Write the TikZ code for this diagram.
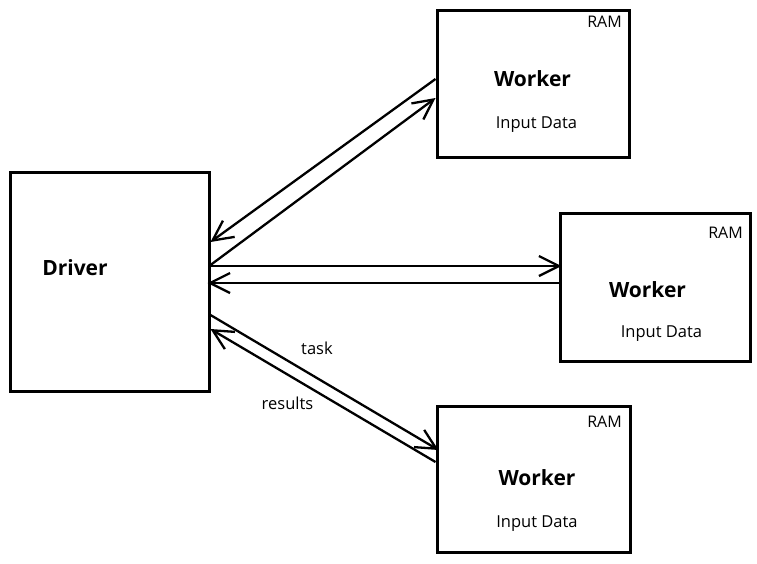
\documentclass[tikz,border=0pt]{standalone}
\usepackage{fontspec}
\setmainfont{Open Sans}
\usetikzlibrary{arrows.meta, positioning}

\begin{document}
\begin{tikzpicture}[
  x=1pt, y=-1pt,
  box/.style={draw, line width=3pt, inner sep=0pt},
  bigtxt/.style={font=\fontsize{21}{23}\selectfont\bfseries, inner sep=0pt, anchor=base},
  smalltxt/.style={font=\fontsize{16.5}{18}\selectfont, inner sep=0pt, anchor=base},
  ramtxt/.style={font=\fontsize{16}{18}\selectfont, inner sep=0pt, anchor=base east},
  arr/.style={-{Straight Barb[length=20pt, width=20pt]}, line width=2.3pt}
]
\useasboundingbox (0,0) rectangle (757,563);

% driver
\node[box, minimum width=199pt, minimum height=219pt] (drv) at (109.5,281.5) {};
\node[bigtxt] (drvname) at (75,275) {Driver};

% workers
\node[box, minimum width=192pt, minimum height=147pt] (w1) at (533,83.5) {};
\node[ramtxt] (w1ram) at (622,27) {RAM};
\node[bigtxt] (w1name) at (532.5,86) {Worker};
\node[smalltxt] (w1data) at (536.5,128) {Input Data};

\node[box, minimum width=190pt, minimum height=148pt] (w2) at (655,287) {};
\node[ramtxt] (w2ram) at (743,238) {RAM};
\node[bigtxt] (w2name) at (647.5,297) {Worker};
\node[smalltxt] (w2data) at (661.5,337) {Input Data};

\node[box, minimum width=193pt, minimum height=146pt] (w3) at (533.5,479) {};
\node[ramtxt] (w3ram) at (622,427) {RAM};
\node[bigtxt] (w3name) at (537,485) {Worker};
\node[smalltxt] (w3data) at (537,527) {Input Data};

% task / results
\draw[arr] ([yshift=4.5pt]w1.west) -- ([yshift=39.5pt]drv.east);
\draw[arr] ([yshift=16.5pt]drv.east) -- ([yshift=-14.5pt]w1.west);
\draw[arr] ([yshift=15.5pt]drv.east) -- ([xshift=3pt, yshift=21pt]w2.west);
\draw[arr] ([yshift=4pt]w2.west) -- ([xshift=-3pt, yshift=-1.5pt]drv.east);
\draw[arr] ([yshift=-33.5pt]drv.east) -- ([xshift=3pt, yshift=29pt]w3.west);
\draw[arr] ([yshift=17pt]w3.west) -- ([yshift=-47.5pt]drv.east);

\node[smalltxt] (tasklbl) at (317,354) {task};
\node[smalltxt] (reslbl) at (287.5,409) {results};
\end{tikzpicture}
\end{document}
